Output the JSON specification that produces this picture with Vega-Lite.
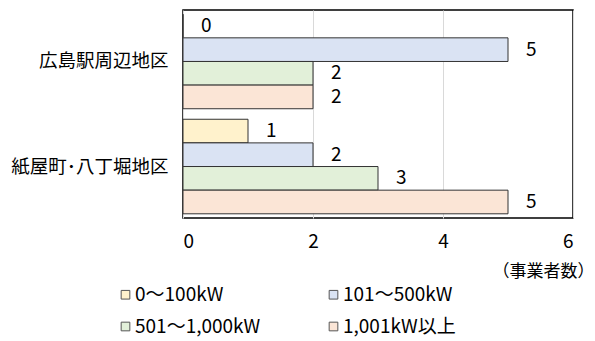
{
  "$schema": "https://vega.github.io/schema/vega-lite/v6.json",
  "width": 390,
  "height": 208,
  "autosize": {"type": "none"},
  "padding": {"left": 183, "top": 10, "right": 22, "bottom": 123},
  "background": "white",
  "config": {
    "font": "Noto Sans CJK JP",
    "view": {"stroke": "#000000", "strokeWidth": 1.5}
  },
  "data": {
    "values": [
      {"region": "広島駅周辺地区", "class": "0～100kW", "value": 0},
      {"region": "広島駅周辺地区", "class": "101～500kW", "value": 5},
      {"region": "広島駅周辺地区", "class": "501～1,000kW", "value": 2},
      {"region": "広島駅周辺地区", "class": "1,001kW以上", "value": 2},
      {"region": "紙屋町･八丁堀地区", "class": "0～100kW", "value": 1},
      {"region": "紙屋町･八丁堀地区", "class": "101～500kW", "value": 2},
      {"region": "紙屋町･八丁堀地区", "class": "501～1,000kW", "value": 3},
      {"region": "紙屋町･八丁堀地区", "class": "1,001kW以上", "value": 5}
    ]
  },
  "encoding": {
    "y": {
      "field": "region",
      "type": "nominal",
      "sort": ["広島駅周辺地区", "紙屋町･八丁堀地区"],
      "scale": {"paddingInner": 0.1, "paddingOuter": 0.04},
      "axis": {
        "title": null,
        "domain": false,
        "ticks": false,
        "labelPadding": 15,
        "labelFontSize": 18.5,
        "labelColor": "#000000",
        "labelLimit": 300
      }
    },
    "yOffset": {
      "field": "class",
      "type": "nominal",
      "sort": ["0～100kW", "101～500kW", "501～1,000kW", "1,001kW以上"]
    },
    "x": {
      "field": "value",
      "type": "quantitative",
      "scale": {"domain": [0, 6]},
      "axis": {
        "values": [0, 2, 4, 6],
        "title": "（事業者数）",
        "titleFontSize": 17,
        "titleFontWeight": "normal",
        "titleColor": "#000000",
        "titleAlign": "right",
        "titleAnchor": "end",
        "titleX": 411,
        "titleY": 45,
        "domain": false,
        "ticks": false,
        "grid": true,
        "gridColor": "#d9d9d9",
        "gridWidth": 1,
        "labelPadding": 14,
        "labelFontSize": 19,
        "labelColor": "#000000"
      }
    }
  },
  "layer": [
    {
      "mark": {"type": "bar", "stroke": "#333333", "strokeWidth": 1},
      "encoding": {
        "color": {
          "field": "class",
          "type": "nominal",
          "sort": ["0～100kW", "101～500kW", "501～1,000kW", "1,001kW以上"],
          "scale": {
            "domain": ["0～100kW", "101～500kW", "501～1,000kW", "1,001kW以上"],
            "range": ["#FFF2CC", "#DAE3F3", "#E2F0D9", "#FBE5D6"]
          },
          "legend": {
            "title": null,
            "orient": "none",
            "legendX": -67,
            "legendY": 275,
            "direction": "horizontal",
            "columns": 2,
            "columnPadding": 63,
            "rowPadding": 12,
            "symbolType": "square",
            "symbolSize": 75,
            "symbolStrokeColor": "#555555",
            "symbolStrokeWidth": 1,
            "labelFontSize": 19,
            "labelColor": "#000000",
            "labelOffset": 0,
            "labelLimit": 300
          }
        }
      }
    },
    {
      "mark": {"type": "text", "align": "left", "baseline": "middle", "dx": 18, "fontSize": 19, "color": "#000000"},
      "encoding": {"text": {"field": "value", "type": "quantitative"}}
    }
  ]
}
